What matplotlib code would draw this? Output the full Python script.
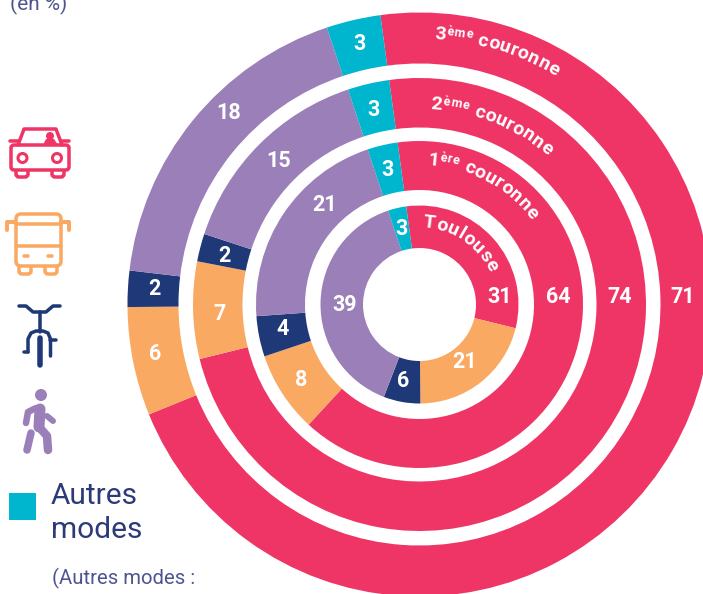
import math
import matplotlib
matplotlib.use('Agg')
import matplotlib.pyplot as plt
from matplotlib.patches import Circle, FancyBboxPatch, Rectangle, Polygon

plt.rcParams['font.family'] = ['Roboto', 'DejaVu Sans']

# share of trips by mode, order: car, public transport, bike, walk, other
toulouse = [31, 21, 6, 39, 3]
couronne_1 = [64, 8, 4, 21, 3]
couronne_2 = [74, 7, 2, 15, 3]
couronne_3 = [71, 6, 2, 18, 3]
rings = [toulouse, couronne_1, couronne_2, couronne_3]

PINK = '#EE3566'
ORANGE = '#FAA963'
NAVY = '#1F3877'
PURPLE = '#9B7FB8'
TEAL = '#00B5CE'
mode_colors = [PINK, ORANGE, NAVY, PURPLE, TEAL]

W, H = 703, 594
CX, CY = 419.5, 304.5
ring_radii = [(56.5, 99), (114.5, 163.5), (177, 226.5), (241, 292)]

# value label spots, same order as the rings (pixels)
label_pos = [
    [(500, 297), (465, 362), (403, 381), (345, 305), (402, 229)],
    [(558, 297), (301, 380), (283, 329), (325, 205), (388, 170)],
    [(620, 297), (220, 314), (224, 256), (279, 161), (374, 110)],
    [(683, 297), (155, 354), (154, 289), (229, 113), (360, 44)],
]

fig = plt.figure(figsize=(W / 100, H / 100), dpi=100)
ax = fig.add_axes([0, 0, 1, 1])
for values, (r_in, r_out) in zip(rings, ring_radii):
    ax.pie(values, colors=mode_colors, radius=r_out, center=(CX, H - CY),
           startangle=97.7, counterclock=False,
           wedgeprops={'width': r_out - r_in, 'linewidth': 0})
ax.set_xlim(0, W)
ax.set_ylim(0, H)
ax.set_aspect('equal')
ax.axis('off')

# overlay in pixel coordinates, y pointing down
ov = fig.add_axes([0, 0, 1, 1], facecolor='none')
ov.set_xlim(0, W)
ov.set_ylim(H, 0)
ov.axis('off')

for values, spots in zip(rings, label_pos):
    for v, (x, y) in zip(values, spots):
        ov.text(x, y, str(v), color='white', fontsize=15.5, fontweight='bold',
                ha='center', va='center')


def arc_text(parts, radius, mid_angle):
    """ Write text along a circle, parts are (string, size, rise) """
    renderer = fig.canvas.get_renderer()
    chars = []
    total = 0
    for s, size, rise in parts:
        for ch in s:
            t = ov.text(0, 0, ch if ch != ' ' else 'n', fontsize=size, fontweight='bold')
            w = t.get_window_extent(renderer).width + 0.4
            t.remove()
            if ch == ' ':
                w *= 0.5
            chars.append((ch, size, rise, w))
            total += w
    pos = -total / 2
    for ch, size, rise, w in chars:
        ang = mid_angle + math.degrees((pos + w / 2) / radius)
        a = math.radians(ang)
        r = radius + rise
        ov.text(CX + r * math.sin(a), CY - r * math.cos(a), ch, color='white',
                fontsize=size, fontweight='bold', rotation=-ang,
                rotation_mode='anchor', ha='center', va='baseline')
        pos += w


arc_text([('Toulouse', 14, 0)], 77, 34)
arc_text([('1', 14, 0), ('ère', 9, 5), (' couronne', 14, 0)], 140, 28)
arc_text([('2', 14, 0), ('ème', 9, 5), (' couronne', 14, 0)], 196, 22)
arc_text([('3', 14, 0), ('ème', 9, 5), (' couronne', 14, 0)], 266, 17)

# left side text
ov.text(10, 4, '(en %)', color='#4D5490', fontsize=15, va='center')
ov.text(51, 496, 'Autres', color='#2D3A7A', fontsize=21.5, va='center')
ov.text(51, 530, 'modes', color='#2D3A7A', fontsize=21.5, va='center')
ov.text(52, 578, '(Autres modes :', color='#4D5490', fontsize=14.6, va='center')
ov.add_patch(Rectangle((9, 493), 27, 27, color=TEAL, lw=0))


def stroke(xs, ys, color, w):
    ov.plot(xs, ys, color=color, lw=w * 0.72, solid_capstyle='round',
            solid_joinstyle='round')


def rbox(x, y, w, h, color, lw=3.5, pad=3):
    ov.add_patch(FancyBboxPatch((x + pad, y + pad), w - 2 * pad, h - 2 * pad,
                                boxstyle='round,pad=%d' % pad, fc='white',
                                ec=color, lw=lw * 0.72))


# car icon
rbox(16, 168, 12, 9, PINK)
rbox(52, 168, 12, 9, PINK)
rbox(11, 145, 58, 25, PINK)
stroke([18, 24, 56, 62], [145, 129, 129, 145], PINK, 3.5)
stroke([10, 18], [141, 141], PINK, 3.5)
stroke([62, 69], [141, 141], PINK, 3.5)
for wx in (22.5, 57):
    ov.add_patch(Circle((wx, 158), 4.5, fc='white', ec=PINK, lw=2.2))
ov.add_patch(Circle((50, 136), 4, color=PINK, lw=0))
ov.add_patch(Polygon([(43, 145), (46, 139), (54, 139), (58, 145)], color=PINK, lw=0))

# bus icon
rbox(19, 264, 12, 10, ORANGE)
rbox(45, 264, 12, 10, ORANGE)
rbox(16, 214, 45, 52, ORANGE, pad=5)
stroke([16, 61], [224, 224], ORANGE, 3.5)
stroke([16, 61], [246, 246], ORANGE, 3.5)
stroke([7, 7, 15], [230, 222, 222], ORANGE, 4)
stroke([69, 69, 61], [230, 222, 222], ORANGE, 4)
stroke([24, 28], [256, 256], ORANGE, 3.5)
stroke([48, 52], [256, 256], ORANGE, 3.5)

# bike icon
stroke([19, 26, 33, 46, 53, 60], [306, 306, 312, 312, 306, 306], NAVY, 3.5)
stroke([39.5, 39.5], [312, 332], NAVY, 3.5)
stroke([28, 28, 31, 36, 43, 48, 50.5, 50.5],
       [352, 339, 333, 331, 331, 333, 339, 356], NAVY, 3.5)
stroke([39.5, 39.5], [338, 365], NAVY, 5.5)
stroke([24, 28], [352, 352], NAVY, 3.5)
stroke([50, 56], [340, 340], NAVY, 3.5)

# walker icon
ov.add_patch(Circle((41, 395), 6, color=PURPLE, lw=0))
stroke([40, 39], [409, 427], PURPLE, 11)
stroke([36, 28, 26], [408, 412, 423], PURPLE, 6.5)
stroke([47, 53], [416, 421], PURPLE, 6)
stroke([40, 47, 48], [428, 436, 450], PURPLE, 8.5)
stroke([31, 27], [433, 450], PURPLE, 7.5)

fig.savefig('out.png', dpi=100)
